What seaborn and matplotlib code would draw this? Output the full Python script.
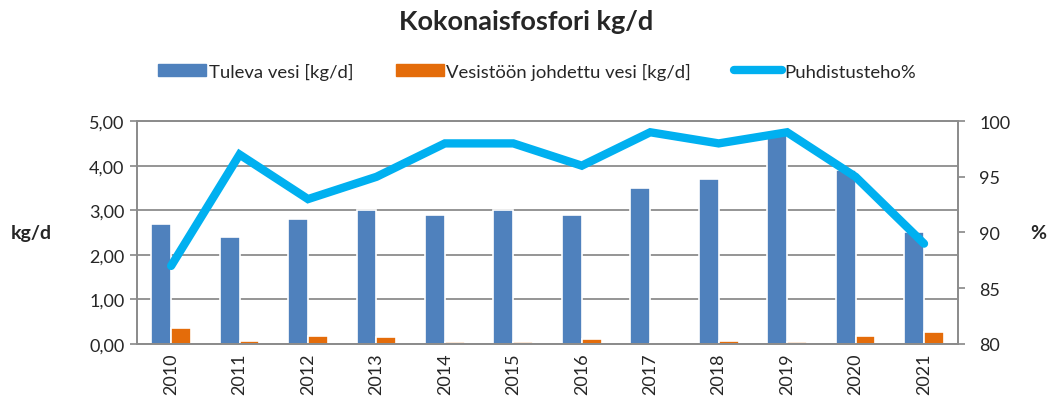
import seaborn as sns
import numpy as np
import pandas as pd
import matplotlib.pyplot as plt
from matplotlib.patches import Patch
from matplotlib.lines import Line2D
from matplotlib.ticker import FuncFormatter, MultipleLocator

sns.set_theme(style="white")
plt.rcParams['font.family'] = ['Lato', 'DejaVu Sans']

years = ["2010", "2011", "2012", "2013", "2014", "2015",
         "2016", "2017", "2018", "2019", "2020", "2021"]
tuleva = [2.7, 2.4, 2.8, 3.0, 2.9, 3.0, 2.9, 3.5, 3.7, 4.7, 3.9, 2.5]
vesistoon = [0.35, 0.06, 0.18, 0.15, 0.05, 0.05, 0.11, 0.01, 0.06, 0.05, 0.17, 0.27]
teho = [87, 97, 93, 95, 98, 98, 96, 99, 98, 99, 95, 89]

s1 = "Tuleva vesi [kg/d]"
s2 = "Vesistöön johdettu vesi [kg/d]"
s3 = "Puhdistusteho%"
c_blue, c_orange, c_line = "#4F81BD", "#E46C0A", "#00B0F0"

df = pd.DataFrame({
    "vuosi": years * 2,
    "kg": tuleva + vesistoon,
    "sarja": [s1] * len(years) + [s2] * len(years),
})

fig = plt.figure(figsize=(10.53, 4.14), dpi=100)
ax = fig.add_axes([0.130, 0.167, 0.780, 0.538])

sns.barplot(data=df, x="vuosi", y="kg", hue="sarja", palette=[c_blue, c_orange],
            saturation=1, width=0.58, edgecolor="white", linewidth=1.2, ax=ax, legend=False)
ax.set_xlim(-0.5, len(years) - 0.5)
ax.set_ylim(0, 5)
ax.yaxis.set_major_locator(MultipleLocator(1))
ax.yaxis.set_major_formatter(FuncFormatter(lambda v, p: f"{v:.2f}".replace(".", ",")))
ax.grid(axis="y", color="#8c8c8c", linewidth=1.3)
ax.set_axisbelow(True)
ax.set_xlabel("")
ax.set_ylabel("kg/d", fontsize=14, fontweight="bold", rotation=0, va="center", ha="center")
ax.yaxis.set_label_coords(-0.128, 0.5)
ax.tick_params(axis="x", labelrotation=90, labelsize=13, length=0, pad=6)
ax.tick_params(axis="y", labelsize=13, length=5, color="#8c8c8c", left=True, pad=4)
for side in ["left", "bottom", "right", "top"]:
    ax.spines[side].set_color("#8c8c8c")
    ax.spines[side].set_linewidth(1.3)

ax2 = ax.twinx()
sns.lineplot(x=np.arange(len(years)), y=teho, color=c_line, linewidth=6,
             solid_joinstyle="miter", ax=ax2)
ax2.set_ylim(80, 100)
ax2.yaxis.set_major_locator(MultipleLocator(5))
ax2.set_ylabel("%", fontsize=14, fontweight="bold", rotation=0, va="center", ha="center")
ax2.yaxis.set_label_coords(1.098, 0.5)
ax2.tick_params(axis="y", labelsize=13, length=5, color="#8c8c8c", right=True, pad=10)
for side in ["left", "bottom", "right", "top"]:
    ax2.spines[side].set_color("#8c8c8c")
    ax2.spines[side].set_linewidth(1.3)

fig.suptitle("Kokonaisfosfori kg/d", fontsize=19.5, fontweight="bold", y=0.975)

handles = [Patch(color=c_blue), Patch(color=c_orange),
           Line2D([], [], color=c_line, linewidth=6, solid_capstyle="round")]
fig.legend(handles, [s1, s2, s3], loc="center", bbox_to_anchor=(0.51, 0.826), ncol=3,
           frameon=False, fontsize=13.3, handlelength=2.6, handleheight=0.55,
           handletextpad=0.15, columnspacing=2.3)

fig.savefig("out.png", dpi=100)
